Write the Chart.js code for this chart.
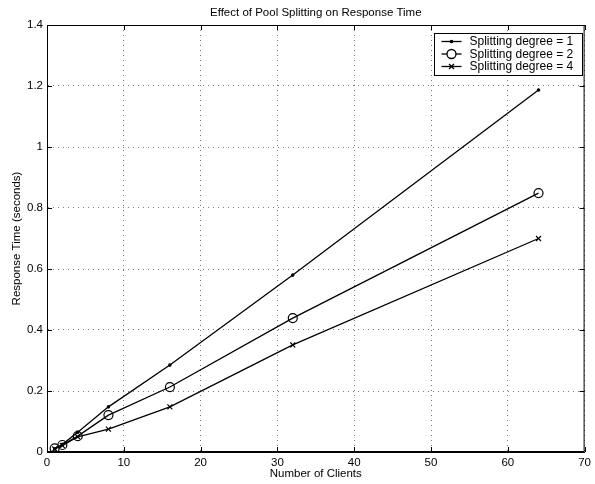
<!DOCTYPE html>
<html>
<head>
<meta charset="utf-8">
<script src="https://cdn.jsdelivr.net/npm/chart.js@4/dist/chart.umd.min.js"></script>
<style>
  html, body { margin: 0; padding: 0; background: #fff; }
  #wrap { width: 595px; height: 484px; }
</style>
</head>
<body>
<div id="wrap"><canvas id="chart" width="595" height="484"></canvas></div>
<script>
// --- data ---
const clients = [1, 2, 4, 8, 16, 32, 64];
const degree1 = [0.010, 0.025, 0.065, 0.148, 0.285, 0.580, 1.187];
const degree2 = [0.012, 0.023, 0.052, 0.121, 0.213, 0.439, 0.849];
const degree4 = [0.010, 0.021, 0.050, 0.075, 0.148, 0.351, 0.700];
const seriesNames = ['Splitting degree = 1', 'Splitting degree = 2', 'Splitting degree = 4'];
const xTickLabels = ['0', '10', '20', '30', '40', '50', '60', '70'];
const yTickLabels = ['0', '0.2', '0.4', '0.6', '0.8', '1', '1.2', '1.4'];

const FONT = 'Liberation Sans, Arial, Helvetica, sans-serif';
const INK = '#000';

function toPoints(ys) {
  return clients.map((x, i) => ({ x, y: ys[i] }));
}

const styles = [
  { pointStyle: 'circle', pointRadius: 1.2, pointBackgroundColor: INK },
  { pointStyle: 'circle', pointRadius: 4.5, pointBackgroundColor: 'rgba(0,0,0,0)' },
  { pointStyle: 'crossRot', pointRadius: 3.5, pointBackgroundColor: INK },
];

// frame, inward ticks and MATLAB-like legend box
const framePlugin = {
  id: 'frame',
  afterDraw(chart) {
    const { ctx, chartArea: a, scales: { x, y } } = chart;
    ctx.save();
    ctx.strokeStyle = INK;
    ctx.lineWidth = 1;
    ctx.strokeRect(a.left + 0.5, a.top + 0.5, a.right - a.left - 1, a.bottom - a.top - 1);
    const tl = 5;
    ctx.beginPath();
    x.ticks.forEach((t) => {
      const px = Math.round(x.getPixelForValue(t.value)) + 0.5;
      ctx.moveTo(px, a.bottom); ctx.lineTo(px, a.bottom - tl);
      ctx.moveTo(px, a.top); ctx.lineTo(px, a.top + tl);
    });
    y.ticks.forEach((t) => {
      const py = Math.round(y.getPixelForValue(t.value)) + 0.5;
      ctx.moveTo(a.left, py); ctx.lineTo(a.left + tl, py);
      ctx.moveTo(a.right, py); ctx.lineTo(a.right - tl, py);
    });
    ctx.stroke();

    // legend
    const bx = 434.5, by = 33.5, bw = 148, bh = 42;
    ctx.fillStyle = '#fff';
    ctx.fillRect(bx, by, bw, bh);
    ctx.strokeRect(bx, by, bw, bh);
    ctx.font = '12px ' + FONT;
    ctx.textBaseline = 'middle';
    ctx.textAlign = 'left';
    seriesNames.forEach((name, i) => {
      const ry = by + 8 + i * 12.5;
      ctx.beginPath();
      ctx.lineWidth = 1.3;
      ctx.moveTo(bx + 7, ry); ctx.lineTo(bx + 27, ry);
      ctx.stroke();
      const s = styles[i];
      Chart.helpers.drawPoint(ctx, {
        pointStyle: s.pointStyle, radius: s.pointRadius, rotation: 0, borderWidth: 1.3,
      }, bx + 17, ry);
      if (s.pointBackgroundColor === INK) { ctx.fillStyle = INK; ctx.fill(); }
      ctx.fillStyle = INK;
      ctx.fillText(name, bx + 35, ry + 0.5);
      ctx.fillStyle = '#fff';
    });
    ctx.restore();
  },
};

const chartTitle = {
  id: 'chartTitle',
  afterDraw(chart) {
    const { ctx, chartArea: a } = chart;
    ctx.save();
    ctx.font = '11.5px ' + FONT;
    ctx.fillStyle = INK;
    ctx.textAlign = 'center';
    ctx.textBaseline = 'middle';
    ctx.fillText('Effect of Pool Splitting on Response Time', (a.left + a.right) / 2, 13);
    ctx.restore();
  },
};

new Chart(document.getElementById('chart'), {
  type: 'line',
  data: {
    datasets: [degree1, degree2, degree4].map((ys, i) => ({
      label: seriesNames[i],
      data: toPoints(ys),
      borderColor: INK,
      borderWidth: 1.3,
      pointBorderColor: INK,
      pointBorderWidth: 1.2,
      tension: 0,
      fill: false,
      ...styles[i],
    })),
  },
  options: {
    responsive: false,
    devicePixelRatio: 1,
    animation: false,
    layout: { padding: { top: 25, right: 8, left: 0, bottom: 0 } },
    plugins: { legend: { display: false }, tooltip: { enabled: false }, title: { display: false } },
    scales: {
      x: {
        type: 'linear',
        min: 0,
        max: 70,
        afterBuildTicks: (s) => { s.ticks = xTickLabels.map((l) => ({ value: +l })); },
        ticks: {
          color: INK,
          font: { family: FONT, size: 11.5 },
          padding: 4,
          maxRotation: 0,
          callback: (v, i) => xTickLabels[i],
        },
        grid: { color: '#777', drawTicks: false, lineWidth: 1 },
        border: { display: true, color: INK, width: 1, dash: [1, 4] },
        title: { display: true, text: 'Number of Clients', color: INK, font: { family: FONT, size: 11.5 }, padding: { top: 0, bottom: 3 } },
        afterFit: (s) => { s.height = 32; },
      },
      y: {
        type: 'linear',
        min: 0,
        max: 1.4,
        afterBuildTicks: (s) => { s.ticks = yTickLabels.map((l) => ({ value: +l })); },
        ticks: {
          color: INK,
          font: { family: FONT, size: 11.5 },
          padding: 4,
          callback: (v, i) => yTickLabels[i],
        },
        grid: { color: '#777', drawTicks: false, lineWidth: 1 },
        border: { display: true, color: INK, width: 1, dash: [1, 4] },
        title: { display: true, text: 'Response Time (seconds)', color: INK, font: { family: FONT, size: 11.5 }, padding: { top: 10, bottom: 0 } },
        afterFit: (s) => { s.width = 47; },
      },
    },
  },
  plugins: [framePlugin, chartTitle],
});
</script>
</body>
</html>
